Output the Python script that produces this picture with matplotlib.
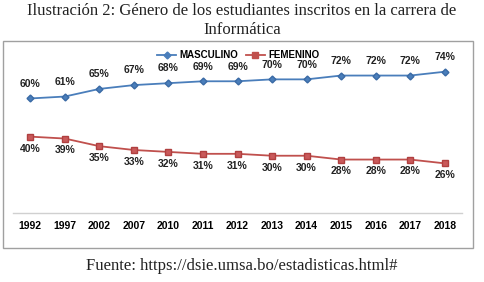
import matplotlib
matplotlib.use("Agg")
import matplotlib.pyplot as plt
from matplotlib.patches import Rectangle
from matplotlib.lines import Line2D

years = ["1992", "1997", "2002", "2007", "2010", "2011", "2012", "2013", "2014", "2015", "2016", "2017", "2018"]
masculino = [60, 61, 65, 67, 68, 69, 69, 70, 70, 72, 72, 72, 74]
femenino = [40, 39, 35, 33, 32, 31, 31, 30, 30, 28, 28, 28, 26]

W, H = 484, 282
fig = plt.figure(figsize=(W / 100, H / 100), dpi=100)

def fx(px):
    return px / W

def fy(py):
    return 1 - py / H

# outer frame
fig.patches.append(Rectangle((fx(3), fy(248)), fx(473) - fx(3), fy(41) - fy(248),
                             transform=fig.transFigure, fill=False,
                             edgecolor="#a0a0a0", linewidth=1.0))

ax = fig.add_axes([fx(13), fy(213), fx(462) - fx(13), fy(45) - fy(213)])
x = list(range(len(years)))
blue = "#4a7ebb"
red = "#c0504d"
ax.plot(x, masculino, color=blue, marker="D", markersize=3.5, linewidth=1.3,
        markerfacecolor=blue, markeredgecolor="#3a6aa5", label="MASCULINO")
ax.plot(x, femenino, color=red, marker="s", markersize=5, linewidth=1.3,
        markerfacecolor="#c9595a", markeredgecolor="#b04040", label="FEMENINO")

ax.set_xlim(-0.5, len(years) - 0.5)
ax.set_ylim(0, 88)
ax.set_xticks(x)
ax.set_xticklabels(years, fontsize=7.5, fontweight="bold", family="Liberation Sans")
ax.tick_params(axis="x", length=0, pad=6)
ax.set_yticks([])
for s in ["top", "right", "left"]:
    ax.spines[s].set_visible(False)
ax.spines["bottom"].set_color("#d0d0d0")
ax.spines["bottom"].set_linewidth(1.0)

for xi, v in zip(x, masculino):
    ax.annotate(f"{v}%", (xi, v), xytext=(0, 7), textcoords="offset points",
                ha="center", va="bottom", fontsize=7.5, fontweight="bold",
                family="Liberation Sans", color="#222222")
for xi, v in zip(x, femenino):
    ax.annotate(f"{v}%", (xi, v), xytext=(0, -5), textcoords="offset points",
                ha="center", va="top", fontsize=7.5, fontweight="bold",
                family="Liberation Sans", color="#222222")

handles = [
    Line2D([], [], color=blue, marker="D", markersize=3.5, linewidth=1.3),
    Line2D([], [], color=red, marker="s", markersize=4.5, linewidth=1.3),
]
fig.legend(handles, ["MASCULINO", "FEMENINO"], loc="center",
           bbox_to_anchor=(fx(238), fy(55)), ncol=2, frameon=False,
           prop={"family": "Liberation Sans", "weight": "bold", "size": 7},
           handlelength=2.0, handletextpad=0.3, columnspacing=0.8)

fig.text(0.5, fy(11), "Ilustración 2: Género de los estudiantes inscritos en la carrera de",
         ha="center", va="center", fontsize=12, family="Liberation Serif", color="#222222")
fig.text(0.5, fy(30), "Informática",
         ha="center", va="center", fontsize=12, family="Liberation Serif", color="#222222")
fig.text(0.5, fy(266), "Fuente: https://dsie.umsa.bo/estadisticas.html#",
         ha="center", va="center", fontsize=12, family="Liberation Serif", color="#222222")

fig.savefig("out.png", dpi=100, facecolor="white")
